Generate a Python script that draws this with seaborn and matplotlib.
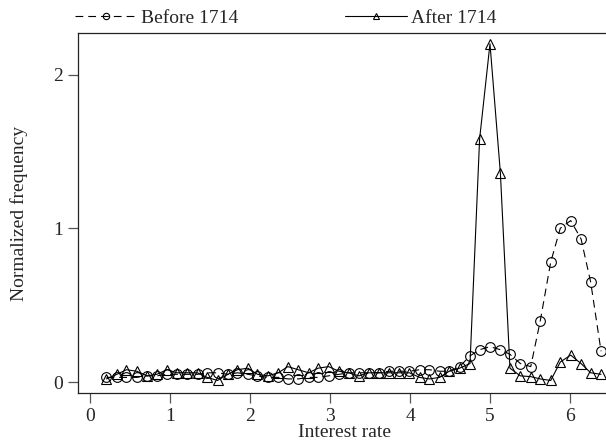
import numpy as np
import pandas as pd
import matplotlib
matplotlib.use("Agg")
import matplotlib.pyplot as plt
import seaborn as sns

# interest rate bins
rate = [0.20, 0.33, 0.45, 0.58, 0.71, 0.83, 0.96, 1.08, 1.21, 1.34,
        1.46, 1.59, 1.72, 1.84, 1.97, 2.09, 2.22, 2.35, 2.47, 2.60,
        2.73, 2.85, 2.98, 3.11, 3.23, 3.36, 3.48, 3.61, 3.74, 3.86,
        3.99, 4.12, 4.24, 4.37, 4.49, 4.62, 4.75, 4.87, 5.00, 5.13,
        5.25, 5.38, 5.51, 5.63, 5.76, 5.88, 6.01, 6.14, 6.26, 6.39]

before_1714 = [0.03, 0.03, 0.03, 0.03, 0.04, 0.04, 0.05, 0.05, 0.05, 0.05,
               0.06, 0.06, 0.05, 0.06, 0.05, 0.04, 0.03, 0.03, 0.02, 0.02,
               0.03, 0.03, 0.04, 0.05, 0.06, 0.06, 0.06, 0.06, 0.07, 0.07,
               0.07, 0.08, 0.08, 0.07, 0.07, 0.10, 0.17, 0.21, 0.23, 0.21,
               0.18, 0.12, 0.10, 0.40, 0.78, 1.00, 1.05, 0.93, 0.65, 0.20]

after_1714 = [0.02, 0.05, 0.08, 0.07, 0.04, 0.05, 0.08, 0.06, 0.06, 0.06,
              0.03, 0.01, 0.05, 0.08, 0.09, 0.05, 0.04, 0.06, 0.10, 0.08,
              0.06, 0.09, 0.10, 0.07, 0.06, 0.04, 0.06, 0.06, 0.06, 0.06,
              0.06, 0.03, 0.02, 0.03, 0.07, 0.09, 0.12, 1.58, 2.20, 1.36,
              0.09, 0.04, 0.035, 0.02, 0.01, 0.13, 0.175, 0.12, 0.06, 0.05]

sns.set_style("ticks")
plt.rcParams["font.family"] = ["Liberation Serif", "DejaVu Serif"]

fig = plt.figure(figsize=(6.06, 4.42), dpi=100)
W, H = 606, 442
ax = fig.add_axes([78 / W, (H - 393) / H, (612 - 78) / W, 360 / H])

sns.lineplot(x=rate, y=before_1714, ax=ax, color="k", linestyle=(0, (7, 4.5)),
             linewidth=0.8, marker="o", markersize=7, markerfacecolor="none",
             markeredgecolor="k", markeredgewidth=0.8, label="Before 1714")
sns.lineplot(x=rate, y=after_1714, ax=ax, color="k", linestyle="-",
             linewidth=0.8, marker="^", markersize=7, markerfacecolor="none",
             markeredgecolor="k", markeredgewidth=0.8, label="After 1714")

ax.set_xlim(-0.156, 6.527)
ax.set_ylim(-0.0715, 2.27)
ax.set_xticks([0, 1, 2, 3, 4, 5, 6])
ax.set_yticks([0, 1, 2])
ax.tick_params(axis="both", labelsize=14, length=7, width=0.9,
               color="#555555", direction="out", pad=4)
for s in ["left", "bottom", "top"]:
    ax.spines[s].set_color("#222222")
    ax.spines[s].set_linewidth(0.9)
ax.spines["right"].set_visible(False)

ax.set_xlabel("Interest rate", fontsize=14, labelpad=-1)
ax.set_ylabel("Normalized frequency", fontsize=14, labelpad=18)

ax.legend(loc="lower left", bbox_to_anchor=(-0.01, 1.012), ncol=2,
          frameon=False, fontsize=14, handlelength=3.2, numpoints=1,
          markerscale=0.65, columnspacing=5.5, handletextpad=0.2,
          borderaxespad=0.0, borderpad=0.1)

fig.savefig("out.png", dpi=100)
